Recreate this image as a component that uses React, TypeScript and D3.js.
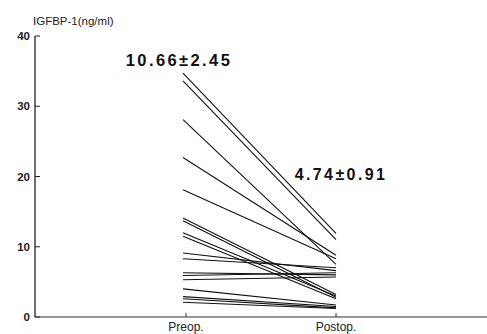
import React from 'react';
import { scaleLinear, scalePoint } from 'd3';

const width = 487;
const height = 334;

const groups = ['Preop.', 'Postop.'];
const preop = [34.7, 33.6, 28.1, 22.7, 18.1, 14.1, 13.7, 12.0, 11.5, 9.1, 8.3, 6.3, 5.9, 5.3, 4.0, 2.9, 2.6, 2.1];
const postop = [11.9, 11.0, 7.5, 8.8, 8.3, 3.2, 2.8, 3.0, 2.6, 6.6, 7.0, 6.0, 6.3, 5.7, 1.7, 1.5, 1.3, 1.2];
const yTicks = [0, 10, 20, 30, 40];
const meanLabels = ['10.66±2.45', '4.74±0.91'];

const axisX = 35;
const x0 = 186;
const x1 = 336;

const y = scaleLinear().domain([0, 40]).range([317, 36]);
const x = scalePoint<string>().domain(groups).range([x0, x1]);

export default function App() {
    const font = 'Arial, "Liberation Sans", Helvetica, sans-serif';
    return (
        <svg width={width} height={height}
            style={{ position: 'absolute', left: 0, top: 0, background: '#fff' }}>
            {/* y axis */}
            <line x1={axisX} x2={axisX} y1={y(40)} y2={y(0)} stroke="#222" strokeWidth={1.3} />
            {yTicks.map(t => (
                <g key={t}>
                    <line x1={axisX} x2={axisX + 5} y1={y(t)} y2={y(t)} stroke="#222" strokeWidth={1} />
                    <text x={axisX - 5} y={y(t) + 4} textAnchor="end" fontSize={11.5}
                        fontWeight="bold" fontFamily={font} fill="#222">{t}</text>
                </g>
            ))}
            <text x={33} y={25} fontSize={11.5} fontFamily={font} fill="#222">IGFBP-1(ng/ml)</text>

            {/* x axis */}
            <line x1={axisX} x2={width} y1={y(0)} y2={y(0)} stroke="#333" strokeWidth={1.2} />
            {groups.map(g => (
                <g key={g}>
                    <line x1={x(g)} x2={x(g)} y1={y(0)} y2={y(0) - 4} stroke="#333" strokeWidth={1} />
                    <text x={x(g)} y={331} textAnchor="middle" fontSize={12}
                        fontFamily={font} fill="#222">{g}</text>
                </g>
            ))}

            {/* paired lines */}
            {preop.map((v, i) => (
                <line key={i} x1={(x('Preop.') as number) - 3} y1={y(v)}
                    x2={x('Postop.')} y2={y(postop[i])}
                    stroke="#111" strokeWidth={1.1} />
            ))}

            <text x={179} y={66} textAnchor="middle" fontSize={16.5} fontWeight="bold"
                letterSpacing={2.4} fontFamily={font} fill="#111">{meanLabels[0]}</text>
            <text x={341} y={180} textAnchor="middle" fontSize={16} fontWeight="bold"
                letterSpacing={2.4} fontFamily={font} fill="#111">{meanLabels[1]}</text>
        </svg>
    );
}
